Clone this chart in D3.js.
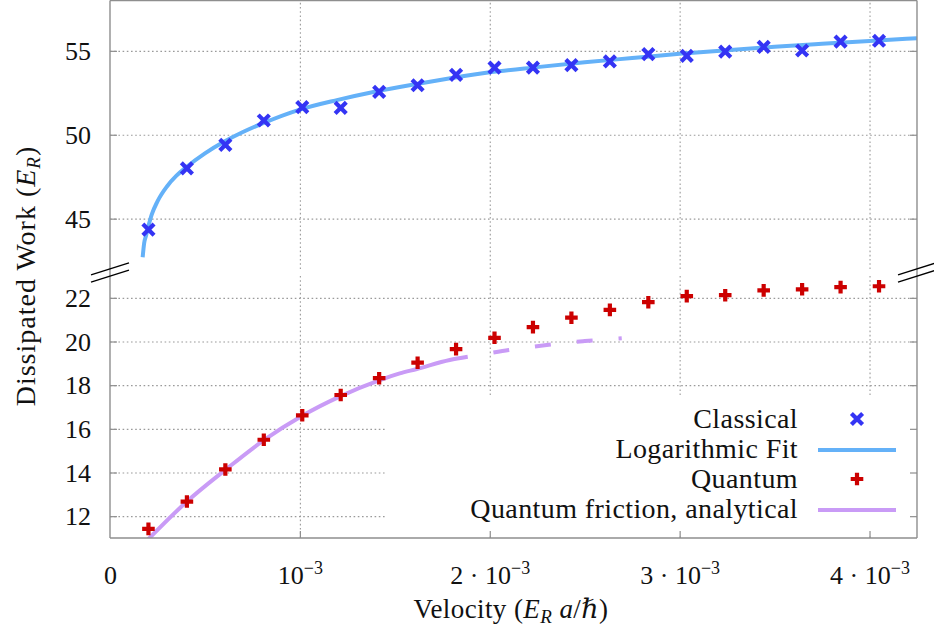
<!DOCTYPE html>
<html>
<head>
<meta charset="utf-8">
<script src="https://cdn.jsdelivr.net/npm/d3@7"></script>
<style>
  html, body { margin: 0; padding: 0; background: #fff; }
</style>
</head>
<body>
<div id="chart"></div>
<script>
// velocity in units of 1e-3 E_R a / hbar
const velocity = [0.2025, 0.405, 0.6075, 0.81, 1.0125, 1.215, 1.4175, 1.62, 1.8225, 2.025,
                  2.2275, 2.43, 2.6325, 2.835, 3.0375, 3.24, 3.4425, 3.645, 3.8475, 4.05];
const classical = [44.35, 48.0, 49.4, 50.85, 51.65, 51.6, 52.55, 52.95, 53.57, 54.0,
                   54.0, 54.15, 54.37, 54.8, 54.7, 54.95, 55.24, 55.02, 55.55, 55.6];
const quantum = [11.42, 12.67, 14.14, 15.5, 16.62, 17.55, 18.32, 19.03, 19.65, 20.17,
                 20.66, 21.09, 21.45, 21.8, 22.08, 22.12, 22.34, 22.39, 22.49, 22.53];

// logarithmic fit curve
const fitV = [0.172, 0.18, 0.19, 0.2, 0.22, 0.25, 0.3, 0.35, 0.4, 0.5, 0.6, 0.7, 0.8, 1.0, 1.2, 1.4, 1.6, 1.8,
              2.0, 2.25, 2.5, 2.75, 3.0, 3.25, 3.5, 3.75, 4.0, 4.25];
const fitW = [42.7, 43.55, 44.0, 44.45, 45.25, 46.03, 46.92, 47.56, 48.05, 48.89, 49.58, 50.16, 50.66, 51.5, 52.08, 52.58, 53.0, 53.38,
              53.72, 54.03, 54.32, 54.57, 54.82, 55.04, 55.24, 55.42, 55.59, 55.75];

// analytical quantum friction: solid part, then dashed continuation
const analyticV = [0.2, 0.405, 0.6075, 0.81, 1.0125, 1.215, 1.4175, 1.526, 1.616, 1.789, 1.884];
const analyticW = [10.93, 12.67, 14.12, 15.48, 16.6, 17.5, 18.22, 18.54, 18.74, 19.15, 19.3];
const analyticDashV = [1.884, 2.0, 2.1, 2.2, 2.3, 2.4, 2.5, 2.6, 2.695];
const analyticDashW = [19.3, 19.47, 19.61, 19.73, 19.84, 19.94, 20.02, 20.09, 20.15];

const xTicks = [0, 1, 2, 3, 4];
const xTickLabels = ["0", "10^−3", "2 · 10^−3", "3 · 10^−3", "4 · 10^−3"];
const yTopTicks = [45, 50, 55];
const yBottomTicks = [12, 14, 16, 18, 20, 22];

const legendItems = [
    { label: "Classical", kind: "cross" },
    { label: "Logarithmic Fit", kind: "fit" },
    { label: "Quantum", kind: "plus" },
    { label: "Quantum friction, analytical", kind: "analytic" }
];

const width = 934, height = 632;
const left = 110, right = 917;
const topPanel = { y0: 0.5, y1: 269 };
const botPanel = { y0: 276, y1: 538 };
const FONT = "'Liberation Serif', 'DejaVu Serif', serif";

const colors = {
    cross: "#3434f4",
    plus: "#cc0000",
    fit: "#64b1f8",
    analytic: "#c99bf6",
    frame: "#8e8e8e",
    grid: "#9a9a9a"
};

const svg = d3.select("#chart").append("svg")
    .attr("width", width)
    .attr("height", height)
    .attr("viewBox", `0 0 ${width} ${height}`)
    .style("font-family", FONT);

const x = d3.scaleLinear().domain([0, 4.25]).range([left, right]);
const yTop = d3.scaleLinear().domain([42, 58]).range([topPanel.y1, topPanel.y0]);
const yBot = d3.scaleLinear().domain([11, 23]).range([botPanel.y1, botPanel.y0]);

const defs = svg.append("defs");
defs.append("clipPath").attr("id", "clipTop").append("rect")
    .attr("x", left).attr("y", topPanel.y0).attr("width", right - left).attr("height", topPanel.y1 - topPanel.y0);
defs.append("clipPath").attr("id", "clipBot").append("rect")
    .attr("x", left).attr("y", botPanel.y0).attr("width", right - left).attr("height", botPanel.y1 - botPanel.y0);

// grid lines
function gridStyle(g) {
    g.select(".domain").remove();
    g.selectAll(".tick text").remove();
    g.selectAll(".tick line")
        .attr("stroke", colors.grid)
        .attr("stroke-width", 1.1)
        .attr("stroke-dasharray", "1.6,2.6");
}
svg.append("g")
    .attr("transform", `translate(${left},0)`)
    .call(d3.axisLeft(yTop).tickValues(yTopTicks).tickSize(-(right - left)))
    .call(gridStyle);
svg.append("g")
    .attr("transform", `translate(${left},0)`)
    .call(d3.axisLeft(yBot).tickValues(yBottomTicks).tickSize(-(right - left)))
    .call(gridStyle);
svg.append("g")
    .attr("transform", `translate(0,${topPanel.y1})`)
    .call(d3.axisBottom(x).tickValues(xTicks.slice(1)).tickSize(-(topPanel.y1 - topPanel.y0)))
    .call(gridStyle);
svg.append("g")
    .attr("transform", `translate(0,${botPanel.y1})`)
    .call(d3.axisBottom(x).tickValues(xTicks.slice(1)).tickSize(-(botPanel.y1 - botPanel.y0)))
    .call(gridStyle);

// curves
const fitLine = d3.line()
    .x(d => x(d[0])).y(d => yTop(d[1]))
    .curve(d3.curveMonotoneX);
const anLine = d3.line()
    .x(d => x(d[0])).y(d => yBot(d[1]))
    .curve(d3.curveMonotoneX);

svg.append("path")
    .datum(d3.zip(fitV, fitW))
    .attr("clip-path", "url(#clipTop)")
    .attr("d", fitLine)
    .attr("fill", "none")
    .attr("stroke", colors.fit)
    .attr("stroke-width", 4);

svg.append("path")
    .datum(d3.zip(analyticV, analyticW))
    .attr("clip-path", "url(#clipBot)")
    .attr("d", anLine)
    .attr("fill", "none")
    .attr("stroke", colors.analytic)
    .attr("stroke-width", 4);

svg.append("path")
    .datum(d3.zip(analyticDashV, analyticDashW))
    .attr("clip-path", "url(#clipBot)")
    .attr("d", anLine)
    .attr("fill", "none")
    .attr("stroke", colors.analytic)
    .attr("stroke-width", 4)
    .attr("stroke-dasharray", "16,26")
    .attr("stroke-dashoffset", 16);

// markers
function drawCross(g, cx, cy) {
    const s = 5.6;
    g.append("path")
        .attr("d", `M${cx - s},${cy - s}L${cx + s},${cy + s}M${cx - s},${cy + s}L${cx + s},${cy - s}`)
        .attr("stroke", colors.cross)
        .attr("stroke-width", 4.2)
        .attr("fill", "none");
}
function drawPlus(g, cx, cy) {
    const s = 6.3;
    g.append("path")
        .attr("d", `M${cx - s},${cy}L${cx + s},${cy}M${cx},${cy - s}L${cx},${cy + s}`)
        .attr("stroke", colors.plus)
        .attr("stroke-width", 4.2)
        .attr("fill", "none");
}

const crossG = svg.append("g");
velocity.forEach((v, i) => drawCross(crossG, x(v), yTop(classical[i])));
const plusG = svg.append("g");
velocity.forEach((v, i) => drawPlus(plusG, x(v), yBot(quantum[i])));

// legend (opaque box like the original)
svg.append("rect")
    .attr("x", 386).attr("y", 395)
    .attr("width", 528).attr("height", 141)
    .attr("fill", "#fff");

const legend = svg.append("g");
legendItems.forEach((item, i) => {
    const cy = 419 + i * 30;
    legend.append("text")
        .attr("x", 798)
        .attr("y", cy + 9)
        .attr("text-anchor", "end")
        .attr("fill", "#111")
        .style("font-family", FONT)
        .style("font-size", "28px")
        .style("letter-spacing", "0.4px")
        .text(item.label);
    if (item.kind === "cross") drawCross(legend, 857, cy);
    else if (item.kind === "plus") drawPlus(legend, 857, cy);
    else {
        legend.append("line")
            .attr("x1", 818).attr("x2", 896)
            .attr("y1", cy + 1).attr("y2", cy + 1)
            .attr("stroke", colors[item.kind])
            .attr("stroke-width", 4);
    }
});

// frame and ticks
const frame = svg.append("g")
    .attr("stroke", colors.frame)
    .attr("stroke-width", 1.4)
    .attr("fill", "none");
frame.append("line").attr("x1", left).attr("x2", left).attr("y1", topPanel.y0).attr("y2", botPanel.y1);
frame.append("line").attr("x1", right).attr("x2", right).attr("y1", topPanel.y0).attr("y2", botPanel.y1);
frame.append("line").attr("x1", left).attr("x2", right).attr("y1", topPanel.y0).attr("y2", topPanel.y0);
frame.append("line").attr("x1", left).attr("x2", right).attr("y1", botPanel.y1).attr("y2", botPanel.y1);

function tickStyle(g) {
    g.attr("font-family", null);
    g.select(".domain").remove();
    g.selectAll(".tick line").attr("stroke", colors.frame).attr("stroke-width", 1.2);
    g.selectAll(".tick text").attr("fill", "#111").style("font-family", FONT);
}

// y tick labels and inner ticks
[[yTop, yTopTicks], [yBot, yBottomTicks]].forEach(([scale, ticks]) => {
    svg.append("g")
        .attr("transform", `translate(${left},0)`)
        .call(d3.axisLeft(scale).tickValues(ticks).tickSize(-7).tickPadding(19))
        .call(tickStyle)
        .selectAll("text")
        .style("font-size", "26px")
        .attr("dy", "0.33em");
    svg.append("g")
        .attr("transform", `translate(${right},0)`)
        .call(d3.axisRight(scale).tickValues(ticks).tickSize(-7).tickFormat(""))
        .call(tickStyle);
});

// x ticks and labels
const xAxis = svg.append("g")
    .attr("transform", `translate(0,${botPanel.y1})`)
    .call(d3.axisBottom(x).tickValues(xTicks).tickSize(-7).tickPadding(37))
    .call(tickStyle);
xAxis.selectAll(".tick").filter(d => d === 0).select("line").remove();
xAxis.selectAll("text")
    .style("font-size", "26px")
    .attr("dy", "0.35em")
    .each(function (d, i) {
        const parts = xTickLabels[i].split("^");
        const t = d3.select(this).text(null);
        t.append("tspan").text(parts[0]);
        if (parts[1]) {
            t.append("tspan").attr("dy", -10).style("font-size", "18px").text(parts[1]);
        }
    });

// axis break marks
const breakY = (topPanel.y1 + botPanel.y0) / 2;
[left, right].forEach(bx => {
    [-3.6, 3.6].forEach(off => {
        svg.append("line")
            .attr("x1", bx - 19).attr("y1", breakY + off + 6)
            .attr("x2", bx + 19).attr("y2", breakY + off - 6)
            .attr("stroke", "#000")
            .attr("stroke-width", 1.3);
    });
});

// axis titles
const yTitle = svg.append("text")
    .attr("transform", "translate(35,276) rotate(-90)")
    .attr("text-anchor", "middle")
    .attr("fill", "#111")
    .style("font-family", FONT)
    .style("font-size", "28px")
    .style("letter-spacing", "1px");
yTitle.append("tspan").text("Dissipated Work (");
yTitle.append("tspan").style("font-style", "italic").text("E");
yTitle.append("tspan").attr("dy", 5).style("font-size", "19px").style("font-style", "italic").text("R");
yTitle.append("tspan").attr("dy", -5).text(")");

const xTitle = svg.append("text")
    .attr("x", 511)
    .attr("y", 618)
    .attr("text-anchor", "middle")
    .attr("fill", "#111")
    .style("font-family", FONT)
    .style("font-size", "27px")
    .style("letter-spacing", "0.4px");
xTitle.append("tspan").text("Velocity (");
xTitle.append("tspan").style("font-style", "italic").text("E");
xTitle.append("tspan").attr("dy", 5).style("font-size", "19px").style("font-style", "italic").text("R");
xTitle.append("tspan").attr("dy", -5).style("font-style", "italic").text(" a");
xTitle.append("tspan").text("/");
xTitle.append("tspan").style("font-style", "italic").text("ℏ");
xTitle.append("tspan").text(")");
</script>
</body>
</html>
